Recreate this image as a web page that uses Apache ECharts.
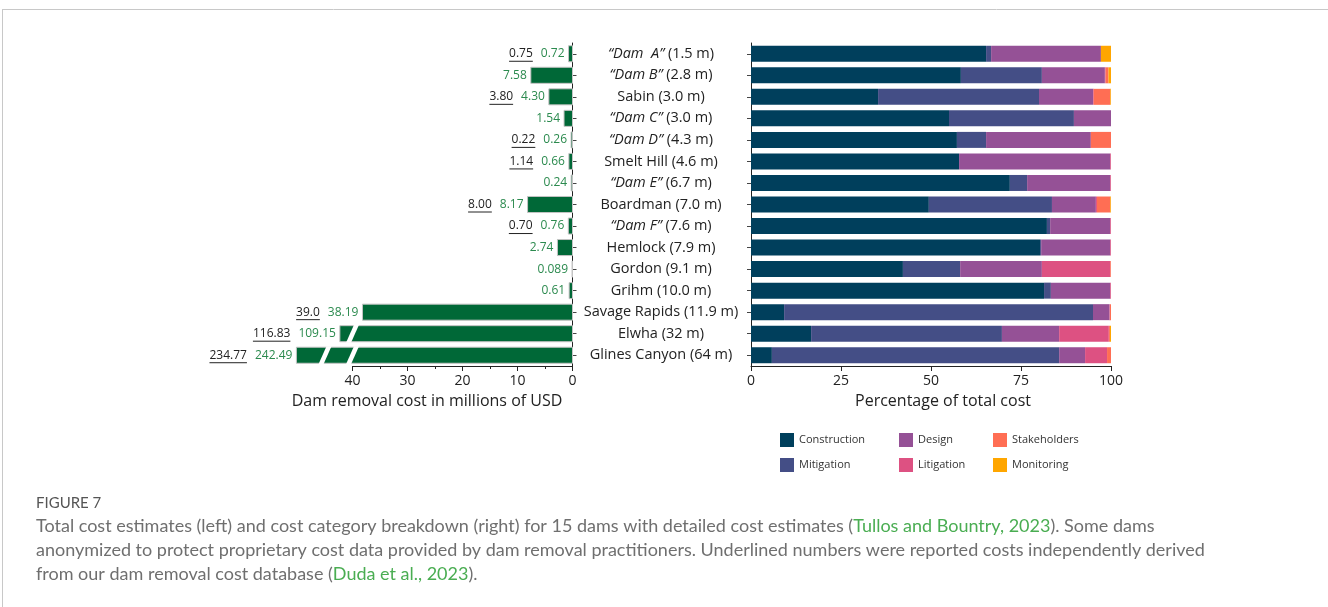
<!DOCTYPE html>
<html><head><meta charset="utf-8">
<script src="https://cdn.jsdelivr.net/npm/echarts@6/dist/echarts.min.js"></script>
<style>html,body{margin:0;padding:0;background:#fff}#c{width:1328px;height:607px}</style>
</head><body><div id="c"></div>
<script>
// ---- data ----
const damNames = ['“Dam  A”', '“Dam B”', 'Sabin', '“Dam C”', '“Dam D”', 'Smelt Hill', '“Dam E”', 'Boardman', '“Dam F”', 'Hemlock', 'Gordon', 'Grihm', 'Savage Rapids', 'Elwha', 'Glines Canyon'];
const damHeights = ['1.5 m', '2.8 m', '3.0 m', '3.0 m', '4.3 m', '4.6 m', '6.7 m', '7.0 m', '7.6 m', '7.9 m', '9.1 m', '10.0 m', '11.9 m', '32 m', '64 m'];
const totalCost = [0.72, 7.58, 4.30, 1.54, 0.26, 0.66, 0.24, 8.17, 0.76, 2.74, 0.089, 0.61, 38.19, 109.15, 242.49];
const reportedCost = ['0.75', null, '3.80', null, '0.22', '1.14', null, '8.00', '0.70', null, null, null, '39.0', '116.83', '234.77'];
// drawn length of the bars that are broken (axis units), and where the breaks are
const brokenLength = [null, null, null, null, null, null, null, null, null, null, null, null, null, 42.3, 50.2];
const breakAt = [[], [], [], [], [], [], [], [], [], [], [], [], [], [40], [40, 45]];

const costCategories = ['Construction', 'Mitigation', 'Design', 'Litigation', 'Stakeholders', 'Monitoring'];
const construction = [65.3, 58.3, 35.3, 55.0, 57.2, 57.8, 71.9, 49.4, 82.2, 80.3, 42.2, 81.4, 9.2, 16.7, 5.8];
const mitigation   = [1.4, 22.5, 44.7, 34.7, 8.1, 0, 4.8, 34.2, 0.9, 0.3, 15.9, 1.9, 85.8, 53.0, 79.8];
const design       = [30.5, 17.5, 15.0, 10.3, 29.1, 42.0, 23.1, 12.2, 16.7, 19.2, 22.7, 16.5, 4.6, 15.9, 7.2];
const litigation   = [0, 0.2, 0.2, 0, 0, 0.2, 0.2, 0.3, 0.2, 0.2, 19.0, 0.2, 0.1, 13.8, 6.1];
const stakeholders = [0, 0.8, 4.6, 0, 5.6, 0, 0, 3.7, 0, 0, 0.2, 0, 0.3, 0.3, 1.1];
const monitoring   = [2.8, 0.7, 0.2, 0, 0, 0, 0, 0.2, 0, 0, 0, 0, 0, 0.3, 0];

const costTicks = [0, 10, 20, 30, 40];
const pctTicks = [0, 25, 50, 75, 100];

// ---- styles ----
const colors = ['#003f5c', '#444e86', '#955196', '#dd5182', '#ff6e54', '#ffa600'];
const seriesValues = [construction, mitigation, design, litigation, stakeholders, monitoring];
const FONT = '"Open Sans", sans-serif';
const LABEL_FONT = '12px "Open Sans"';
const CAP_FONT = '18px Lato';
const GRID_TOP = 43, GRID_BOTTOM = 607 - 366;

const ctx = document.createElement('canvas').getContext('2d');
ctx.font = LABEL_FONT;
const measure = t => ctx.measureText(t).width;
const fmtCost = v => v < 0.1 ? v.toFixed(3) : v.toFixed(2);

const catIndex = damNames.map((_, i) => i);
const leftData = totalCost.map((v, i) => [i, brokenLength[i] != null ? brokenLength[i] : v]);

function renderLeft(params, api) {
  const i = params.dataIndex;
  const idx = api.value(0);
  const shown = api.value(1);
  const base = api.coord([0, idx]);
  const end = api.coord([shown, idx]);
  const h = api.size([0, 1])[1] * 0.745;
  const yTop = base[1] - h / 2, yBot = base[1] + h / 2;
  const children = [{
    type: 'rect',
    shape: { x: end[0], y: yTop, width: base[0] - end[0], height: h },
    style: { fill: '#006837', stroke: '#c4c4c4', lineWidth: 1 }
  }];
  breakAt[i].forEach(b => {
    const c = api.coord([b, idx])[0];
    children.push({
      type: 'polygon',
      shape: { points: [[c - 6.5, yBot + 1], [c - 1.5, yBot + 1], [c + 6.5, yTop - 1], [c + 1.5, yTop - 1]] },
      style: { fill: '#ffffff' }
    });
  });
  const txt = fmtCost(totalCost[i]);
  const gx = end[0] - 4;
  children.push({
    type: 'text',
    style: { text: txt, x: gx, y: base[1], align: 'right', verticalAlign: 'middle', fill: '#2b8a4e', font: LABEL_FONT }
  });
  if (reportedCost[i]) {
    const rx = gx - measure(txt) - 8;
    const rw = measure(reportedCost[i]);
    children.push({
      type: 'text',
      style: { text: reportedCost[i], x: rx, y: base[1], align: 'right', verticalAlign: 'middle', fill: '#222', font: LABEL_FONT }
    });
    children.push({
      type: 'line',
      shape: { x1: rx - rw, y1: base[1] + 7.5, x2: rx, y2: base[1] + 7.5 },
      style: { stroke: '#222', lineWidth: 1 }
    });
  }
  return { type: 'group', children };
}

const axisLineStyle = { color: '#222', width: 1 };

const option = {
  animation: false,
  textStyle: { fontFamily: FONT },
  grid: [
    { left: 352.5, width: 220, top: GRID_TOP, bottom: GRID_BOTTOM },
    { left: 751, width: 360, top: GRID_TOP, bottom: GRID_BOTTOM }
  ],
  xAxis: [
    {
      gridIndex: 0, type: 'value', inverse: true, min: costTicks[0], max: costTicks[costTicks.length - 1], interval: 10,
      axisLine: { show: true, lineStyle: axisLineStyle },
      axisTick: { show: true, length: 5, lineStyle: axisLineStyle },
      minorTick: { show: true, splitNumber: 2, length: 3, lineStyle: axisLineStyle },
      splitLine: { show: false },
      axisLabel: { color: '#222', fontSize: 14, margin: 8, fontFamily: FONT }
    },
    {
      gridIndex: 1, type: 'value', min: pctTicks[0], max: pctTicks[pctTicks.length - 1], interval: 25,
      axisLine: { show: true, lineStyle: axisLineStyle },
      axisTick: { show: true, length: 5, lineStyle: axisLineStyle },
      splitLine: { show: false },
      axisLabel: { color: '#222', fontSize: 14, margin: 8, fontFamily: FONT }
    }
  ],
  yAxis: [
    {
      gridIndex: 0, type: 'category', data: catIndex, inverse: true, position: 'right',
      axisLine: { show: true, lineStyle: axisLineStyle },
      axisTick: { show: true, alignWithLabel: true, length: 4, lineStyle: { color: '#444' } },
      axisLabel: { show: false }
    },
    {
      gridIndex: 1, type: 'category', data: catIndex, inverse: true, position: 'left',
      axisLine: { show: true, lineStyle: axisLineStyle },
      axisTick: { show: true, alignWithLabel: true, length: 4, lineStyle: { color: '#444' } },
      axisLabel: {
        margin: 90, align: 'center', color: '#222', fontSize: 14.5, fontFamily: FONT,
        formatter: v => {
          const n = damNames[v], hgt = damHeights[v];
          return n.startsWith('“') ? '{i|' + n + '} (' + hgt + ')' : n + ' (' + hgt + ')';
        },
        rich: { i: { fontStyle: 'italic', fontSize: 14.5, color: '#222', fontFamily: FONT } }
      }
    }
  ],
  legend: [
    [0, 1], [2, 3], [4, 5]
  ].map((pair, k) => ({
    data: pair.map(j => costCategories[j]),
    orient: 'vertical', left: [780, 899, 993][k], top: 433, padding: 0,
    itemWidth: 14, itemHeight: 14, itemGap: 11, icon: 'rect',
    textStyle: { fontSize: 11, color: '#333', fontFamily: FONT },
    selectedMode: false
  })),
  series: [
    {
      type: 'custom', name: 'Total cost', xAxisIndex: 0, yAxisIndex: 0,
      data: leftData, encode: { x: 1, y: 0 }, renderItem: renderLeft, clip: false, z: 3
    }
  ].concat(costCategories.map((name, k) => ({
    type: 'bar', name, stack: 'pct', xAxisIndex: 1, yAxisIndex: 1,
    data: seriesValues[k], barWidth: 16,
    itemStyle: { color: colors[k] }
  }))),
  graphic: [
    { type: 'line', shape: { x1: 2, y1: 9.5, x2: 1328, y2: 9.5 }, style: { stroke: '#c8c8c8', lineWidth: 1 } },
    { type: 'line', shape: { x1: 2.5, y1: 9, x2: 2.5, y2: 607 }, style: { stroke: '#c8c8c8', lineWidth: 1 } },
    { type: 'text', style: { text: 'Dam removal cost in millions of USD', x: 427, y: 401, align: 'center', verticalAlign: 'middle', font: '16px "Open Sans"', fill: '#222' } },
    { type: 'text', style: { text: 'Percentage of total cost', x: 943, y: 401, align: 'center', verticalAlign: 'middle', font: '16px "Open Sans"', fill: '#222' } },
    { type: 'text', style: { text: 'FIGURE 7', x: 36, y: 503, verticalAlign: 'middle', font: '15px Lato', fill: '#555' } },
    { type: 'text', style: {
      x: 36, y: 526, verticalAlign: 'middle',
      text: '{t|Total cost estimates (left) and cost category breakdown (right) for 15 dams with detailed cost estimates (}{g|Tullos and Bountry, 2023}{t|). Some dams}',
      rich: { t: { font: CAP_FONT, fill: '#6f6f6f' }, g: { font: CAP_FONT, fill: '#4aad52' } }
    } },
    { type: 'text', style: {
      x: 36, y: 550, verticalAlign: 'middle',
      text: '{t|anonymized to protect proprietary cost data provided by dam removal practitioners. Underlined numbers were reported costs independently derived}',
      rich: { t: { font: CAP_FONT, fill: '#6f6f6f' } }
    } },
    { type: 'text', style: {
      x: 36, y: 574, verticalAlign: 'middle',
      text: '{t|from our dam removal cost database (}{g|Duda et al., 2023}{t|).}',
      rich: { t: { font: CAP_FONT, fill: '#6f6f6f' }, g: { font: CAP_FONT, fill: '#4aad52' } }
    } }
  ]
};

const chart = echarts.init(document.getElementById('c'), null, { renderer: 'canvas' });
chart.setOption(option);
</script></body></html>
